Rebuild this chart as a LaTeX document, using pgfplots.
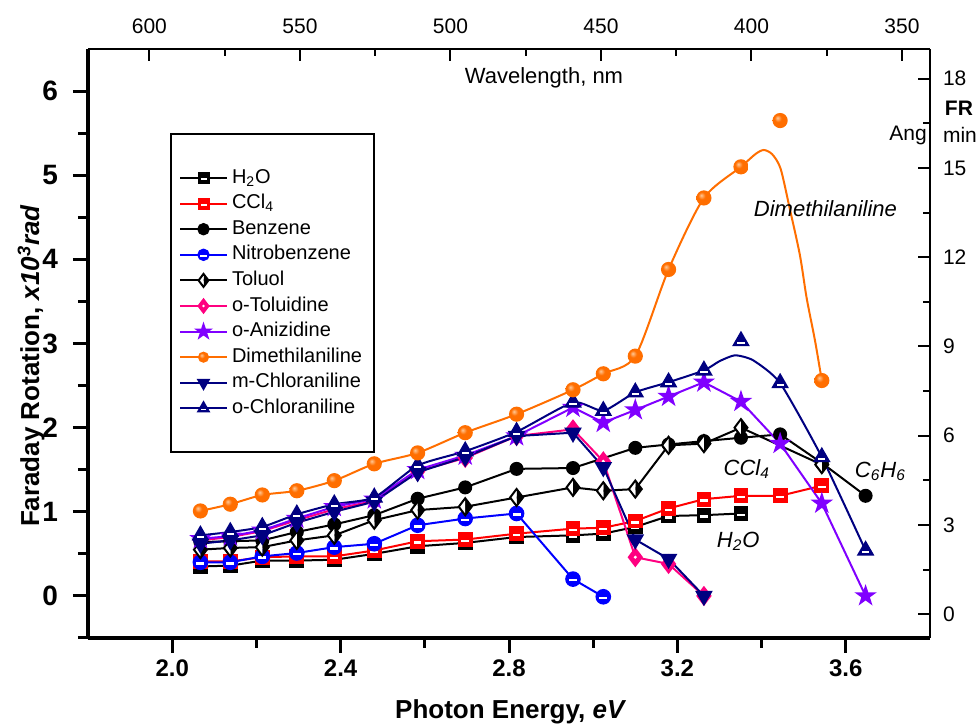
\documentclass[border=0pt]{standalone}
\usepackage{pgfplots}
\pgfplotsset{compat=1.18}
\usepackage{fontspec}
\setmainfont{Liberation Sans}

\definecolor{orangeC}{RGB}{255,110,0}
\definecolor{orangeL}{RGB}{255,200,150}
\definecolor{pinkC}{RGB}{255,0,128}
\definecolor{purpleC}{RGB}{128,0,255}
\definecolor{navyC}{RGB}{0,0,128}
\definecolor{blueC}{RGB}{0,0,255}
\definecolor{redC}{RGB}{255,0,0}

% orange sphere shading with a light highlight
\pgfdeclareradialshading{oball}{\pgfpoint{-9bp}{9bp}}{%
  color(0bp)=(orangeL); color(12bp)=(orangeC); color(40bp)=(orangeC); color(60bp)=(orangeC)}
\pgfdeclareplotmark{oball}{%
  \pgfpathcircle{\pgfpointorigin}{\pgfplotmarksize}%
  \pgfshadepath{oball}{0}\pgfusepath{}}
% square with a white bar
\pgfdeclareplotmark{sqbar}{%
  \pgfpathrectangle{\pgfqpoint{-\pgfplotmarksize}{-\pgfplotmarksize}}{\pgfqpoint{2\pgfplotmarksize}{2\pgfplotmarksize}}%
  \pgfusepathqfillstroke
  \pgfscope\pgfsetfillcolor{white}%
  \pgfpathrectangle{\pgfqpoint{-0.6\pgfplotmarksize}{-0.4\pgfplotmarksize}}{\pgfqpoint{1.2\pgfplotmarksize}{0.38\pgfplotmarksize}}%
  \pgfusepathqfill\endpgfscope}
% circle with a white bar
\pgfdeclareplotmark{circbar}{%
  \pgfpathcircle{\pgfpointorigin}{\pgfplotmarksize}%
  \pgfusepathqfillstroke
  \pgfscope\pgfsetfillcolor{white}%
  \pgfpathrectangle{\pgfqpoint{-0.6\pgfplotmarksize}{-0.35\pgfplotmarksize}}{\pgfqpoint{1.2\pgfplotmarksize}{0.35\pgfplotmarksize}}%
  \pgfusepathqfill\endpgfscope}
% up triangle with a white bar
\pgfdeclareplotmark{tribar}{%
  \pgfpathmoveto{\pgfqpoint{0pt}{1.25\pgfplotmarksize}}%
  \pgfpathlineto{\pgfqpoint{-1.08\pgfplotmarksize}{-0.625\pgfplotmarksize}}%
  \pgfpathlineto{\pgfqpoint{1.08\pgfplotmarksize}{-0.625\pgfplotmarksize}}%
  \pgfpathclose\pgfusepathqfillstroke
  \pgfscope\pgfsetfillcolor{white}%
  \pgfpathrectangle{\pgfqpoint{-0.55\pgfplotmarksize}{-0.42\pgfplotmarksize}}{\pgfqpoint{1.1\pgfplotmarksize}{0.3\pgfplotmarksize}}%
  \pgfusepathqfill\endpgfscope}
% filled down triangle
\pgfdeclareplotmark{tridown}{%
  \pgfpathmoveto{\pgfqpoint{0pt}{-1.25\pgfplotmarksize}}%
  \pgfpathlineto{\pgfqpoint{-1.08\pgfplotmarksize}{0.625\pgfplotmarksize}}%
  \pgfpathlineto{\pgfqpoint{1.08\pgfplotmarksize}{0.625\pgfplotmarksize}}%
  \pgfpathclose\pgfusepathqfillstroke}
% diamond, left half open
\pgfdeclareplotmark{halfdia}{%
  \pgfpathmoveto{\pgfqpoint{0pt}{1.25\pgfplotmarksize}}%
  \pgfpathlineto{\pgfqpoint{0.95\pgfplotmarksize}{0pt}}%
  \pgfpathlineto{\pgfqpoint{0pt}{-1.25\pgfplotmarksize}}%
  \pgfpathclose\pgfusepathqfill
  \pgfscope\pgfsetfillcolor{white}%
  \pgfpathmoveto{\pgfqpoint{0pt}{1.25\pgfplotmarksize}}%
  \pgfpathlineto{\pgfqpoint{-0.95\pgfplotmarksize}{0pt}}%
  \pgfpathlineto{\pgfqpoint{0pt}{-1.25\pgfplotmarksize}}%
  \pgfpathclose\pgfusepathqfill\endpgfscope
  \pgfpathmoveto{\pgfqpoint{0pt}{1.25\pgfplotmarksize}}%
  \pgfpathlineto{\pgfqpoint{0.95\pgfplotmarksize}{0pt}}%
  \pgfpathlineto{\pgfqpoint{0pt}{-1.25\pgfplotmarksize}}%
  \pgfpathlineto{\pgfqpoint{-0.95\pgfplotmarksize}{0pt}}%
  \pgfpathclose\pgfusepathqstroke}
% filled diamond with a white dot
\pgfdeclareplotmark{diadot}{%
  \pgfpathmoveto{\pgfqpoint{0pt}{1.25\pgfplotmarksize}}%
  \pgfpathlineto{\pgfqpoint{0.95\pgfplotmarksize}{0pt}}%
  \pgfpathlineto{\pgfqpoint{0pt}{-1.25\pgfplotmarksize}}%
  \pgfpathlineto{\pgfqpoint{-0.95\pgfplotmarksize}{0pt}}%
  \pgfpathclose\pgfusepathqfillstroke
  \pgfscope\pgfsetfillcolor{white}%
  \pgfpathcircle{\pgfpointorigin}{0.25\pgfplotmarksize}%
  \pgfusepathqfill\endpgfscope}
% filled five-pointed star
\pgfdeclareplotmark{fstar}{%
  \pgfpathmoveto{\pgfqpoint{0pt}{\pgfplotmarksize}}%
  \pgfpathlineto{\pgfqpoint{0.2245\pgfplotmarksize}{0.309\pgfplotmarksize}}%
  \pgfpathlineto{\pgfqpoint{0.951\pgfplotmarksize}{0.309\pgfplotmarksize}}%
  \pgfpathlineto{\pgfqpoint{0.363\pgfplotmarksize}{-0.118\pgfplotmarksize}}%
  \pgfpathlineto{\pgfqpoint{0.588\pgfplotmarksize}{-0.809\pgfplotmarksize}}%
  \pgfpathlineto{\pgfqpoint{0pt}{-0.382\pgfplotmarksize}}%
  \pgfpathlineto{\pgfqpoint{-0.588\pgfplotmarksize}{-0.809\pgfplotmarksize}}%
  \pgfpathlineto{\pgfqpoint{-0.363\pgfplotmarksize}{-0.118\pgfplotmarksize}}%
  \pgfpathlineto{\pgfqpoint{-0.951\pgfplotmarksize}{0.309\pgfplotmarksize}}%
  \pgfpathlineto{\pgfqpoint{-0.2245\pgfplotmarksize}{0.309\pgfplotmarksize}}%
  \pgfpathclose\pgfusepathqfillstroke}

\begin{document}
\begin{tikzpicture}
% ---------- wavelength (top) and FR in angular minutes (right) ----------
\begin{axis}[
  every non boxed x axis/.style={}, every non boxed y axis/.style={},
  scale only axis, width=421pt, height=294.5pt,
  xmin=340.7, xmax=620.4, x dir=reverse,
  ymin=-0.8, ymax=19,
  enlargelimits=false,
  axis x line=top, axis y line=right,
  x axis line style={-, line width=1.3pt},
  y axis line style={-, line width=1.3pt},
  tick align=inside,
  xtick={350,400,450,500,550,600}, minor xtick={375,425,475,525,575},
  ytick={0,3,6,9,12,15,18}, minor ytick={1.5,4.5,7.5,10.5,13.5,16.5},
  major tick length=6pt, minor tick length=3.5pt,
  every tick/.style={black, line width=1pt},
  /pgf/number format/assume math mode=true,
  xticklabel style={font=\fontsize{10.5}{10.5}\selectfont, yshift=4pt},
  yticklabel style={font=\fontsize{10.5}{10.5}\selectfont, xshift=3pt},
  clip=false,
]
\coordinate (bl) at (rel axis cs:0,0);
\coordinate (tr) at (rel axis cs:1,1);
\node[font=\fontsize{11}{11}\selectfont] at (rel axis cs:0.5416,0.9508) {Wavelength, nm};
\node[font=\bfseries\fontsize{10.5}{10.5}\selectfont] at (rel axis cs:1.0344,0.8998) {FR};
\node[font=\fontsize{10.5}{10.5}\selectfont] at (rel axis cs:0.9739,0.854) {Ang};
\node[font=\fontsize{10.5}{10.5}\selectfont] at (rel axis cs:1.0356,0.854) {min};
\end{axis}

% ---------- Faraday rotation against photon energy ----------
\begin{axis}[
  every non boxed x axis/.style={}, every non boxed y axis/.style={},
  scale only axis, width=421pt, height=294.5pt,
  xmin=1.8, xmax=3.8, ymin=-0.5, ymax=6.5,
  enlargelimits=false,
  axis x line=bottom, axis y line=left,
  x axis line style={-, line width=2pt},
  y axis line style={-, line width=2pt},
  tick align=outside,
  xtick={2.0,2.4,2.8,3.2,3.6}, minor xtick={2.2,2.6,3.0,3.4},
  ytick={0,1,2,3,4,5,6}, minor ytick={-0.5,0.5,1.5,2.5,3.5,4.5,5.5},
  major tick length=7.5pt, minor tick length=5pt,
  every tick/.style={black, line width=1.5pt},
  /pgf/number format/assume math mode=true,
  xticklabel style={font=\bfseries\fontsize{12}{12}\selectfont,
    /pgf/number format/.cd, fixed, fixed zerofill, precision=1},
  yticklabel style={font=\bfseries\fontsize{14}{14}\selectfont, xshift=-4pt},
  xlabel={Photon Energy, \textit{eV}},
  ylabel={Faraday Rotation, \textit{x10\textsuperscript{3}rad}},
  label style={font=\bfseries\fontsize{13}{13}\selectfont},
  xlabel style={at={(axis description cs:0.502,-0.1375)}, anchor=base},
  ylabel style={at={(axis description cs:-0.0677,0.462)}, anchor=center},
  legend style={at={(0.0974,0.8574)}, anchor=north west, draw=black, line width=1pt,
    font=\fontsize{10}{10}\selectfont, inner xsep=4pt, inner ysep=17pt, row sep=2.8pt,
    nodes={text height=7.5pt, text depth=2.5pt, inner ysep=0pt}},
  legend cell align=left,
  legend image code/.code={\draw[mark repeat=2,mark phase=2,#1] plot coordinates {(0pt,0pt) (11.75pt,0pt) (23.5pt,0pt)};},
  clip=false,
]
% legend entries
\addlegendimage{black, line width=1pt, mark=sqbar, mark size=2.5pt}
\addlegendentry{H\textsubscript{2}O}
\addlegendimage{redC, line width=1pt, mark=sqbar, mark size=2.5pt}
\addlegendentry{CCl\textsubscript{4}}
\addlegendimage{black, line width=1pt, mark=*, mark size=2.6pt}
\addlegendentry{Benzene}
\addlegendimage{blueC, line width=1pt, mark=circbar, mark size=2.6pt}
\addlegendentry{Nitrobenzene}
\addlegendimage{black, line width=1pt, mark=halfdia, mark size=2.6pt}
\addlegendentry{Toluol}
\addlegendimage{pinkC, line width=1pt, mark=diadot, mark size=2.6pt}
\addlegendentry{o-Toluidine}
\addlegendimage{purpleC, line width=1pt, mark=fstar, mark size=3.4pt}
\addlegendentry{o-Anizidine}
\addlegendimage{orangeC, line width=1pt, mark=oball, mark size=2.8pt}
\addlegendentry{Dimethilaniline}
\addlegendimage{navyC, line width=1pt, mark=tridown, mark size=2.4pt}
\addlegendentry{m-Chloraniline}
\addlegendimage{navyC, line width=1pt, mark=tribar, mark size=2.4pt}
\addlegendentry{o-Chloraniline}

% H2O
\addplot[black, line width=1pt, mark=sqbar, mark size=3.2pt, forget plot] coordinates {
(2.067,0.35)(2.138,0.36)(2.214,0.42)(2.296,0.42)(2.385,0.43)(2.480,0.50)(2.583,0.59)
(2.696,0.63)(2.818,0.70)(2.952,0.72)(3.024,0.74)(3.100,0.82)(3.179,0.95)(3.263,0.96)(3.351,0.98)};
% CCl4
\addplot[redC, line width=1pt, mark=sqbar, mark size=3.2pt, forget plot] coordinates {
(2.067,0.41)(2.138,0.41)(2.214,0.46)(2.296,0.47)(2.385,0.47)(2.480,0.54)(2.583,0.65)
(2.696,0.67)(2.818,0.74)(2.952,0.80)(3.024,0.81)(3.100,0.89)(3.179,1.04)(3.263,1.15)
(3.351,1.19)(3.444,1.19)(3.543,1.31)};
% Nitrobenzene
\addplot[blueC, line width=1pt, mark=circbar, mark size=3.4pt, forget plot] coordinates {
(2.067,0.40)(2.138,0.40)(2.214,0.47)(2.296,0.51)(2.385,0.58)(2.480,0.62)(2.583,0.84)
(2.696,0.92)(2.818,0.98)(2.952,0.20)(3.024,-0.01)};
% Benzene
\addplot[black, line width=1pt, mark=*, mark size=3pt, forget plot] coordinates {
(2.067,0.64)(2.138,0.65)(2.214,0.66)(2.296,0.76)(2.385,0.85)(2.480,0.96)(2.583,1.155)
(2.696,1.29)(2.818,1.51)(2.952,1.52)(3.100,1.76)(3.179,1.80)(3.263,1.84)(3.351,1.88)
(3.444,1.92)(3.543,1.58)(3.647,1.19)};
% Toluol
\addplot[black, line width=1pt, mark=halfdia, mark size=3.4pt, forget plot] coordinates {
(2.067,0.55)(2.138,0.57)(2.214,0.58)(2.296,0.66)(2.385,0.72)(2.480,0.90)(2.583,1.02)
(2.696,1.06)(2.818,1.17)(2.952,1.29)(3.024,1.25)(3.100,1.27)(3.179,1.79)(3.263,1.81)
(3.351,2.00)(3.543,1.56)};
% o-Toluidine
\addplot[pinkC, line width=1pt, mark=diadot, mark size=3.4pt, forget plot] coordinates {
(2.067,0.66)(2.138,0.70)(2.214,0.77)(2.296,0.90)(2.385,1.03)(2.480,1.13)(2.583,1.48)
(2.696,1.64)(2.818,1.90)(2.952,1.98)(3.024,1.60)(3.100,0.46)(3.179,0.38)(3.263,0.00)};
% o-Anizidine
\addplot[purpleC, line width=1pt, mark=fstar, mark size=4.3pt, forget plot] coordinates {
(2.067,0.68)(2.138,0.71)(2.214,0.78)(2.296,0.92)(2.385,1.06)(2.480,1.15)(2.583,1.50)
(2.696,1.67)(2.818,1.90)(2.952,2.24)(3.024,2.06)(3.100,2.21)(3.179,2.37)(3.263,2.54)
(3.351,2.31)(3.444,1.81)(3.543,1.10)(3.647,0.00)};
% m-Chloraniline
\addplot[navyC, line width=1pt, mark=tridown, mark size=3.3pt, forget plot] coordinates {
(2.067,0.62)(2.138,0.66)(2.214,0.72)(2.296,0.87)(2.385,1.00)(2.480,1.12)(2.583,1.47)
(2.696,1.65)(2.818,1.90)(2.952,1.94)(3.024,1.53)(3.100,0.67)(3.179,0.44)(3.263,0.00)};
% o-Chloraniline: fitted curve, then measured points
\addplot[navyC, line width=1pt, smooth, tension=0.35, forget plot] coordinates {
(2.067,0.72)(2.138,0.76)(2.214,0.82)(2.296,0.97)(2.385,1.09)(2.480,1.17)(2.583,1.55)
(2.696,1.72)(2.818,1.95)(2.952,2.30)(3.024,2.20)(3.100,2.42)(3.179,2.54)(3.263,2.68)
(3.300,2.79)(3.337,2.86)(3.380,2.80)(3.444,2.53)(3.543,1.65)(3.647,0.54)};
\addplot[navyC, only marks, line width=1pt, mark=tribar, mark size=3.3pt, forget plot] coordinates {
(2.067,0.72)(2.138,0.76)(2.214,0.82)(2.296,0.97)(2.385,1.09)(2.480,1.17)(2.583,1.55)
(2.696,1.72)(2.818,1.95)(2.952,2.30)(3.024,2.20)(3.100,2.42)(3.179,2.54)(3.263,2.68)
(3.351,3.03)(3.444,2.53)(3.543,1.65)(3.647,0.54)};
% Dimethilaniline: fitted curve, then measured points
\addplot[orangeC, line width=1pt, smooth, tension=0.45, forget plot] coordinates {
(2.067,1.01)(2.138,1.09)(2.214,1.20)(2.296,1.25)(2.385,1.37)(2.480,1.57)(2.583,1.70)
(2.696,1.94)(2.818,2.16)(2.952,2.45)(3.024,2.64)(3.100,2.85)(3.179,3.88)(3.263,4.73)
(3.351,5.10)(3.385,5.25)(3.405,5.30)(3.425,5.25)(3.445,5.08)(3.467,4.60)(3.491,4.05)
(3.507,3.54)(3.527,3.03)(3.543,2.56)};
\addplot[orangeC, only marks, mark=oball, mark size=3.8pt, forget plot] coordinates {
(2.067,1.01)(2.138,1.09)(2.214,1.20)(2.296,1.25)(2.385,1.37)(2.480,1.57)(2.583,1.70)
(2.696,1.94)(2.818,2.16)(2.952,2.45)(3.024,2.64)(3.100,2.85)(3.179,3.88)(3.263,4.73)
(3.351,5.10)(3.444,5.65)(3.543,2.56)};

% curve labels
\node[anchor=base west, font=\itshape\fontsize{11}{11}\selectfont] at (axis cs:3.365,4.51) {Dimethilaniline};
\node[anchor=base west, font=\itshape\fontsize{11}{11}\selectfont] at (axis cs:3.293,1.43) {CCl\textsubscript{4}};
\node[anchor=base west, font=\itshape\fontsize{11}{11}\selectfont] at (axis cs:3.605,1.41) {C\textsubscript{6}H\textsubscript{6}};
\node[anchor=base west, font=\itshape\fontsize{11}{11}\selectfont] at (axis cs:3.277,0.58) {H\textsubscript{2}O};
\end{axis}

\pgfresetboundingbox
\path ([shift={(-44pt,-44.5pt)}]bl) rectangle ([shift={(24.5pt,24.5pt)}]tr);
\end{tikzpicture}
\end{document}
